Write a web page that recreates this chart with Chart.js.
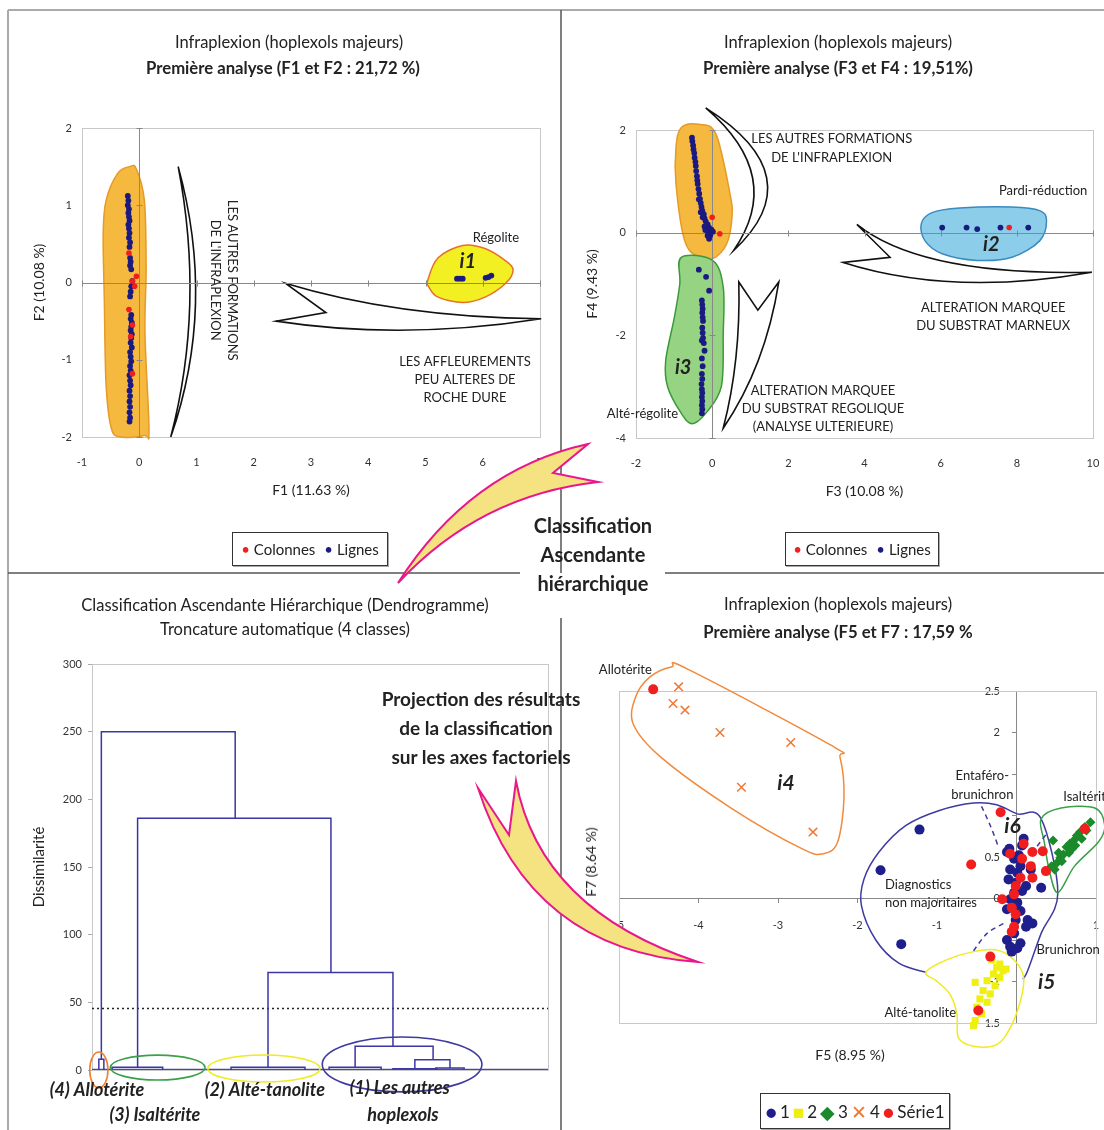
<!DOCTYPE html>
<html>
<head>
<meta charset="utf-8">
<script src="https://cdn.jsdelivr.net/npm/chart.js"></script>
<style>
  body { margin: 0; background: #fff; }
  #page { position: relative; width: 1104px; height: 1130px; overflow: hidden; color: #222;
          font-family: "Liberation Sans Narrow", Lato, sans-serif; }
  canvas { position: absolute; }
  .t { position: absolute; transform: translate(-50%, -50%); white-space: nowrap; line-height: 1; }
  .b { font-weight: bold; }
  .legend { position: absolute; border: 1px solid #333; box-shadow: 1px 1px 0 #aaa; background: #fff;
            display: flex; align-items: center; justify-content: center; gap: 9px; font-size: 15px; }
  .mk { font-size: 19px; line-height: 1; }
</style>
</head>
<body>
<div id="page">
  <canvas id="c1" width="560" height="440" style="left:0;top:90px"></canvas>
  <canvas id="c2" width="542" height="440" style="left:562px;top:90px"></canvas>
  <canvas id="c3" width="560" height="490" style="left:0;top:640px"></canvas>
  <canvas id="c4" width="542" height="545" style="left:562px;top:585px"></canvas>
  <canvas id="overlay" width="1104" height="1130" style="left:0;top:0"></canvas>

  <div class="t" style="left:289px;top:42px;font-size:16.5px">Infraplexion (hoplexols majeurs)</div>
  <div class="t b" style="left:283px;top:68px;font-size:16.7px">Première analyse (F1 et F2 : 21,72 %)</div>
  <div class="t" style="left:838px;top:42px;font-size:16.5px">Infraplexion (hoplexols majeurs)</div>
  <div class="t b" style="left:838px;top:68px;font-size:16.7px">Première analyse (F3 et F4 : 19,51%)</div>
  <div class="t" style="left:285px;top:605px;font-size:16.5px">Classification Ascendante Hiérarchique (Dendrogramme)</div>
  <div class="t" style="left:285px;top:629px;font-size:16.5px">Troncature automatique (4 classes)</div>
  <div class="t" style="left:838px;top:604px;font-size:16.5px">Infraplexion (hoplexols majeurs)</div>
  <div class="t b" style="left:838px;top:632px;font-size:16.7px">Première analyse (F5 et F7 : 17,59 %</div>

  <div class="t b" style="left:593px;top:525px;font-size:20px">Classification</div>
  <div class="t b" style="left:593px;top:554px;font-size:20px">Ascendante</div>
  <div class="t b" style="left:593px;top:583px;font-size:20px">hiérarchique</div>
  <div class="t b" style="left:481px;top:698px;font-size:19px">Projection des résultats</div>
  <div class="t b" style="left:476px;top:727px;font-size:19px">de la classification</div>
  <div class="t b" style="left:481px;top:756px;font-size:19px">sur les axes factoriels</div>

  <div class="t" style="left:850px;top:1055px;font-size:14px">F5 (8.95 %)</div>
  <div class="t" style="left:591px;top:862px;font-size:14px;transform:translate(-50%,-50%) rotate(-90deg)">F7 (8.64 %)</div>

  <div class="legend" style="left:232px;top:532px;width:154px;height:32px">
    <span><span style="color:#f01e1e">&#8226;</span> Colonnes</span><span><span style="color:#1a1a80">&#8226;</span> Lignes</span>
  </div>
  <div class="legend" style="left:785px;top:532px;width:152px;height:32px">
    <span><span style="color:#f01e1e">&#8226;</span> Colonnes</span><span><span style="color:#1a1a80">&#8226;</span> Lignes</span>
  </div>
  <div class="legend" style="left:760px;top:1093px;width:188px;height:34px;font-size:17px;gap:3px">
    <span class="mk" style="color:#1e1e8c">&#9679;</span>1
    <span class="mk" style="color:#eeee10">&#9632;</span>2
    <span class="mk" style="color:#1a8a2a">&#9670;</span>3
    <span class="mk" style="color:#f07830">&#10005;</span>4
    <span class="mk" style="color:#f01e1e">&#9679;</span>Série1
  </div>
</div>

<script>
// ---------- données : F1 / F2 ----------
const f1LignesX = [-0.20, -0.19, -0.20, -0.18, -0.19, -0.18, -0.17, -0.19, -0.18, -0.17, -0.18, -0.16, -0.17,
  -0.16, -0.15, -0.16, -0.14, -0.12, -0.14, -0.15, -0.16,
  -0.14, -0.15, -0.13, -0.14, -0.15, -0.13, -0.14, -0.15, -0.13, -0.16, -0.15, -0.14, -0.16, -0.15, -0.17, -0.16,
  -0.15, -0.17, -0.16, -0.17, -0.16, -0.17, -0.16, -0.17,
  5.55, 5.60, 5.65, 6.05, 6.10, 6.15];
const f2LignesY = [1.12, 1.06, 1.00, 0.95, 0.90, 0.85, 0.80, 0.75, 0.70, 0.64, 0.58, 0.52, 0.46,
  0.32, 0.27, 0.22, 0.17, 0.02, -0.05, -0.12, -0.18,
  -0.42, -0.47, -0.52, -0.57, -0.62, -0.67, -0.72, -0.78, -0.84, -0.90, -0.96, -1.02, -1.08, -1.14, -1.20, -1.27,
  -1.33, -1.40, -1.47, -1.54, -1.61, -1.68, -1.75, -1.80,
  0.05, 0.05, 0.05, 0.06, 0.07, 0.09];
const f1ColonnesX = [-0.18, -0.05, -0.12, -0.08, -0.18, -0.12, -0.15, -0.12];
const f2ColonnesY = [0.38, 0.08, 0.02, -0.05, -0.35, -0.55, -0.70, -1.18];

// ---------- données : F3 / F4 ----------
const f3LignesX = [-0.53, -0.52, -0.50, -0.49, -0.47, -0.46, -0.44, -0.43, -0.42, -0.40, -0.39, -0.38, -0.36,
  -0.34, -0.32, -0.30, -0.28, -0.26, -0.22, -0.20, -0.17, -0.12, -0.08, -0.02, 0.02, -0.15, -0.10, -0.05, -0.08,
  -0.20, -0.25, -0.18, -0.12, -0.35, -0.30,
  6.04, 6.68, 6.96, 7.57, 8.30,
  -0.35, -0.16, -0.08, -0.27, -0.26, -0.25, -0.26, -0.25, -0.24, -0.26, -0.25, -0.24, -0.27, -0.22, -0.20,
  -0.27, -0.25, -0.27, -0.26, -0.28, -0.27, -0.26, -0.27, -0.26, -0.27, -0.26, -0.27];
const f4LignesY = [1.85, 1.78, 1.70, 1.62, 1.55, 1.46, 1.38, 1.30, 1.20, 1.10, 1.02, 0.95, 0.85,
  0.76, 0.66, 0.58, 0.50, 0.43, 0.36, 0.28, 0.22, 0.16, 0.10, 0.06, 0.02, 0.08, 0.00, -0.05, -0.12,
  0.12, 0.30, 0.05, -0.06, 0.65, 0.40,
  0.10, 0.10, 0.07, 0.10, 0.10,
  -0.72, -0.86, -1.13, -1.32, -1.40, -1.48, -1.56, -1.65, -1.72, -1.85, -1.95, -2.05, -2.10, -2.15, -2.30,
  -2.45, -2.60, -2.75, -2.85, -2.95, -3.05, -3.12, -3.20, -3.28, -3.36, -3.44, -3.52];
const f3ColonnesX = [0.00, 0.20, 7.80];
const f4ColonnesY = [0.30, -0.02, 0.10];

// ---------- données : dendrogramme ----------
const mergeLeft      = [1.5, 4.4, 30.5, 52.0, 66.0, 75.4, 70.8, 57.7, 38.6, 10.0, 2.05];
const mergeRight     = [2.6, 15.5, 46.7, 63.4, 75.6, 81.6, 78.5, 74.8, 66.0, 52.4, 31.4];
const mergeHeight    = [8, 2, 2, 2, 1, 1.5, 7.5, 17.5, 72, 186, 250];
const mergeLeftBase  = [0, 0, 0, 0, 0, 0, 1, 2, 2, 2, 8];
const mergeRightBase = [0, 0, 0, 0, 0, 0, 1.5, 7.5, 17.5, 72, 186];
const truncLevel = 45.5;
const classNames = ['(4) Allotérite', '(3) Isaltérite', '(2) Alté-tanolite', '(1) Les autres', 'hoplexols'];

// ---------- données : F5 / F7 ----------
const c1X = [-1.22, -1.71, -1.45, -0.09, -0.03, 0.09, 0.07, -0.08, 0.01, -0.01, 0.12, -0.03, -0.08, 0.01, 0.05,
  0.14, 0.20, -0.03, -0.12, 0.05, -0.06, 0.31, 0.18, 0.05, -0.12, 0.03, -0.10, 0.07, -0.12, -0.01, 0.12, -0.08, 0.01];
const c1Y = [0.83, 0.34, -0.55, 0.60, 0.48, 0.72, 0.64, 0.35, 0.31, 0.19, 0.15, 0.07, -0.01, -0.05, -0.15,
  -0.26, -0.30, -0.42, -0.50, -0.54, -0.64, 0.13, 0.35, 0.39, 0.56, 0.52, 0.23, 0.09, -0.13, -0.26, -0.34, -0.58, -0.60];
const c2X = [-0.31, -0.25, -0.17, -0.29, -0.21, -0.37, -0.52, -0.27, -0.42, -0.33, -0.46, -0.37, -0.50, -0.44, -0.52, -0.54, -0.21, -0.13];
const c2Y = [-0.74, -0.83, -0.87, -0.91, -0.95, -0.99, -1.01, -1.05, -1.11, -1.15, -1.21, -1.25, -1.31, -1.39, -1.47, -1.53, -0.79, -0.85];
const c3X = [0.46, 0.44, 0.51, 0.55, 0.59, 0.53, 0.63, 0.67, 0.72, 0.76, 0.80, 0.86, 0.93, 0.57, 0.66, 0.74, 0.82, 0.88, 0.48, 0.70];
const c3Y = [0.70, 0.39, 0.43, 0.49, 0.53, 0.55, 0.62, 0.66, 0.70, 0.76, 0.80, 0.86, 0.92, 0.45, 0.55, 0.64, 0.72, 0.82, 0.35, 0.60];
const c4X = [-4.25, -4.32, -4.17, -3.73, -2.84, -3.46, -2.56];
const c4Y = [2.55, 2.35, 2.27, 2.00, 1.88, 1.34, 0.80];
const serie1X = [-4.57, -0.20, -0.57, 0.09, -0.08, 0.20, 0.33, 0.07, 0.18, 0.37, 0.20, 0.05, -0.01, -0.03, -0.18,
  -0.06, -0.01, -0.03, -0.06, -0.33, -0.48, 0.86];
const serie1Y = [2.52, 1.04, 0.41, 0.66, 0.54, 0.56, 0.57, 0.48, 0.39, 0.33, 0.25, 0.25, 0.15, 0.05, -0.01,
  -0.11, -0.19, -0.34, -0.40, -0.70, -1.35, 0.84];
const f5Labels = [-5, -4, -3, -2, -1, 1];
const f7Labels = [2.5, 2, 0.5, 0, -1, -1.5];

// ---------- annotations (en unités des axes) ----------
const FONT = '"Liberation Sans Narrow", Lato, sans-serif';
const NAVY = '#1a1a80', RED = '#f01e1e';

const hulls12 = [
  { pts: [[-0.58, 1.06], [-0.38, 1.41], [-0.17, 1.50], [-0.05, 1.47], [0.09, 1.06], [0.12, 0.19], [0.10, -0.66],
          [0.17, -1.91], [0.09, -1.98], [-0.33, -2.0], [-0.49, -1.88], [-0.58, -1.31], [-0.61, -0.23], [-0.63, 0.63]],
    fill: '#f5b940', stroke: '#e69a28' },
  { pts: [[5.04, 0.03], [5.22, 0.32], [5.65, 0.48], [6.04, 0.44], [6.40, 0.28], [6.53, 0.16], [6.40, -0.01],
          [6.04, -0.19], [5.65, -0.26], [5.22, -0.19], [5.06, -0.06]],
    fill: '#f2f022', stroke: '#e8702a' }
];
const shapes12 = [
  { cmds: [['M', 0.68, 1.5], ['Q', 1.35, -0.3, 0.55, -2.0], ['Q', 1.15, -0.3, 0.68, 1.5]] },
  { cmds: [['M', 2.55, -0.01], ['Q', 4.5, -0.45, 7.02, -0.47], ['Q', 4.6, -0.75, 2.39, -0.50], ['L', 3.26, -0.39]] }
];
const texts12 = [
  { x: 1.48, y: 0.03, text: ['LES AUTRES FORMATIONS', "DE L'INFRAPLEXION"], rotate: 90, gap: 17 },
  { x: 6.23, y: 0.58, text: 'Régolite' },
  { x: 5.74, y: 0.27, text: 'i1', font: 'italic bold 20px ' + FONT },
  { x: 5.69, y: -1.03, text: ['LES AFFLEUREMENTS', 'PEU ALTERES DE', 'ROCHE DURE'], gap: 18 }
];

const hulls34 = [
  { pts: [[-0.81, 2.05], [-0.35, 2.11], [0.10, 1.92], [0.47, 0.75], [0.52, 0.30], [0.38, -0.22], [0.01, -0.51],
          [-0.35, -0.48], [-0.72, -0.16], [-0.95, 0.95], [-0.95, 1.66]],
    fill: '#f5b940', stroke: '#e69a28' },
  { pts: [[-0.81, -0.48], [0.01, -0.54], [0.29, -1.06], [0.29, -1.97], [0.24, -3.00], [-0.17, -3.52], [-0.53, -3.72],
          [-0.81, -3.52], [-1.17, -3.00], [-1.22, -2.49], [-0.99, -1.64], [-0.85, -1.00]],
    fill: '#96d483', stroke: '#3a9a3a' },
  { pts: [[5.49, 0.17], [5.77, 0.39], [6.50, 0.48], [7.87, 0.50], [8.60, 0.43], [8.78, 0.23], [8.60, -0.16],
          [7.87, -0.48], [6.96, -0.54], [6.04, -0.41], [5.59, -0.16]],
    fill: '#8ccdea', stroke: '#3a8ac0' }
];
const shapes34 = [
  { cmds: [['M', -0.17, 2.43], ['Q', 2.665, 1.10, 0.56, -0.35], ['Q', 1.925, 1.10, -0.17, 2.43]] },
  { cmds: [['M', 0.70, -0.96], ['L', 1.20, -1.51], ['L', 1.75, -0.96], ['Q', 1.4, -2.6, 0.29, -3.81], ['Q', 0.75, -2.5, 0.70, -0.96]] },
  { cmds: [['M', 3.80, 0.16], ['Q', 5.5, -0.85, 9.97, -0.77], ['Q', 6.28, -1.25, 3.44, -0.58], ['L', 4.67, -0.48]] }
];
const texts34 = [
  { x: 3.14, y: 1.83, text: ['LES AUTRES FORMATIONS', "DE L'INFRAPLEXION"], gap: 19 },
  { x: 8.69, y: 0.82, text: 'Pardi-réduction' },
  { x: 7.33, y: -0.23, text: 'i2', font: 'italic bold 20px ' + FONT },
  { x: 7.38, y: -1.46, text: ['ALTERATION MARQUEE', 'DU SUBSTRAT MARNEUX'], gap: 18 },
  { x: -0.76, y: -2.62, text: 'i3', font: 'italic bold 20px ' + FONT },
  { x: -1.83, y: -3.53, text: 'Alté-régolite' },
  { x: 2.91, y: -3.09, text: ['ALTERATION MARQUEE', 'DU SUBSTRAT REGOLIQUE', '(ANALYSE ULTERIEURE)'], gap: 18 }
];

const ellipses = [
  { cx: 1.5, cy: 0, rx: 2.0, ry: 13.3, color: '#f08030' },
  { cx: 14.4, cy: 1.8, rx: 10.4, ry: 9.2, color: '#3aa04a' },
  { cx: 37.7, cy: 1.1, rx: 12.3, ry: 10, color: '#f0ea20' },
  { cx: 68, cy: 4.1, rx: 17.5, ry: 20.3, color: '#3d3aa0' }
];
const classLabelPos = [[1.1, -14.8], [13.8, -33.3], [37.9, -14.8], [67.5, -13.3], [68.2, -33.3]];

const hulls57 = [
  { pts: [[-4.79, 2.43], [-4.61, 2.67], [-4.34, 2.79], [-4.13, 2.76], [-2.34, 1.85], [-2.22, 1.70], [-2.17, 1.21],
          [-2.25, 0.68], [-2.43, 0.54], [-2.70, 0.60], [-3.59, 1.09], [-4.47, 1.70], [-4.82, 2.10]], stroke: '#f08a3c' },
  { pts: [[0.08, -0.97], [0.14, -0.87], [0.31, -0.42], [0.52, 0.07], [0.31, 0.96], [0.01, 1.02], [-0.25, 1.13],
          [-0.54, 1.15], [-0.97, 1.06], [-1.39, 0.88], [-1.73, 0.56], [-1.92, 0.23], [-1.95, -0.09], [-1.77, -0.50],
          [-1.48, -0.78], [-1.14, -0.89]], stroke: '#3d3aa0', open: true },
  { pts: [[0.31, 0.96], [0.56, 1.09], [0.985, 1.09], [1.11, 0.88], [1.03, 0.68], [0.73, 0.39], [0.52, 0.07],
          [0.41, 0.35], [0.35, 0.68]], stroke: '#3aa04a' },
  { pts: [[-1.14, -0.89], [-0.88, -0.74], [-0.54, -0.64], [-0.25, -0.62], [-0.03, -0.74], [0.09, -0.95], [0.05, -1.23],
          [-0.08, -1.56], [-0.25, -1.76], [-0.54, -1.78], [-0.73, -1.68], [-0.75, -1.39], [-0.84, -1.15], [-1.01, -0.99]],
    stroke: '#f0ea20' },
  { pts: [[-0.44, 1.11], [-0.33, 0.88], [-0.23, 0.63]], stroke: '#3d3aa0', open: true, dash: [5, 4] },
  { pts: [[-0.54, -0.63], [-0.37, -0.42], [-0.16, -0.30]], stroke: '#3d3aa0', open: true, dash: [5, 4] },
  { pts: [[0.26, 0.63], [0.37, 0.77]], stroke: '#3d3aa0', open: true, dash: [5, 4] }
];
const texts57 = [
  { x: -4.92, y: 2.76, text: 'Allotérite' },
  { x: -2.90, y: 1.39, text: 'i4', font: 'italic bold 21px ' + FONT },
  { x: -0.43, y: 1.48, text: ['Entaféro-', 'brunichron'], gap: 19 },
  { x: 0.84, y: 1.22, text: 'Isaltérite', align: 'left', dx: -20 },
  { x: -0.05, y: 0.87, text: 'i6', font: 'italic bold 21px ' + FONT },
  { x: -1.15, y: 0.16, text: ['Diagnostics', 'non majoritaires'], gap: 18, align: 'left', dx: -40 },
  { x: 0.65, y: -0.62, text: 'Brunichron' },
  { x: 0.38, y: -1.01, text: 'i5', font: 'italic bold 21px ' + FONT },
  { x: -1.21, y: -1.38, text: 'Alté-tanolite' }
];

// ---------- outils de dessin ----------
const pairs = (xs, ys) => xs.map((x, i) => ({ x: x, y: ys[i] }));

function toPx(chart, x, y) {
  return [chart.scales.x.getPixelForValue(x), chart.scales.y.getPixelForValue(y)];
}

function smoothPath(ctx, pts, open) {
  const n = pts.length;
  const at = i => open ? pts[Math.max(0, Math.min(n - 1, i))] : pts[(i + n) % n];
  ctx.beginPath();
  ctx.moveTo(pts[0][0], pts[0][1]);
  const segs = open ? n - 1 : n;
  for (let i = 0; i < segs; i++) {
    const p0 = at(i - 1), p1 = at(i), p2 = at(i + 1), p3 = at(i + 2);
    ctx.bezierCurveTo(p1[0] + (p2[0] - p0[0]) / 6, p1[1] + (p2[1] - p0[1]) / 6,
                      p2[0] - (p3[0] - p1[0]) / 6, p2[1] - (p3[1] - p1[1]) / 6, p2[0], p2[1]);
  }
  if (!open) ctx.closePath();
}

function drawHulls(chart, hulls) {
  const ctx = chart.ctx;
  hulls.forEach(h => {
    smoothPath(ctx, h.pts.map(p => toPx(chart, p[0], p[1])), h.open);
    if (h.fill) { ctx.fillStyle = h.fill; ctx.fill(); }
    ctx.setLineDash(h.dash || []);
    ctx.strokeStyle = h.stroke;
    ctx.lineWidth = 1.5;
    ctx.stroke();
    ctx.setLineDash([]);
  });
}

function drawShapes(chart, shapes) {
  const ctx = chart.ctx;
  shapes.forEach(s => {
    ctx.beginPath();
    s.cmds.forEach(c => {
      const a = toPx(chart, c[1], c[2]);
      if (c[0] === 'M') ctx.moveTo(a[0], a[1]);
      else if (c[0] === 'L') ctx.lineTo(a[0], a[1]);
      else { const b = toPx(chart, c[3], c[4]); ctx.quadraticCurveTo(a[0], a[1], b[0], b[1]); }
    });
    ctx.closePath();
    ctx.fillStyle = '#fff';
    ctx.fill();
    ctx.strokeStyle = '#111';
    ctx.lineWidth = 1.6;
    ctx.stroke();
  });
}

function drawTexts(chart, texts) {
  const ctx = chart.ctx;
  texts.forEach(t => {
    const p = toPx(chart, t.x, t.y);
    const lines = [].concat(t.text);
    const gap = t.gap || 17;
    ctx.save();
    ctx.translate(p[0] + (t.dx || 0), p[1]);
    if (t.rotate) ctx.rotate(t.rotate * Math.PI / 180);
    ctx.font = t.font || '13px ' + FONT;
    ctx.fillStyle = '#222';
    ctx.textAlign = t.align || 'center';
    ctx.textBaseline = 'middle';
    const shift = t.rotate ? (lines.length - 1) / 2 : 0;
    lines.forEach((s, i) => ctx.fillText(s, 0, (i - shift) * gap));
    ctx.restore();
  });
}

function drawBox(chart) {
  const ctx = chart.ctx, a = chart.chartArea;
  ctx.strokeStyle = '#c8c8c8';
  ctx.lineWidth = 1;
  ctx.strokeRect(Math.round(a.left) + 0.5, Math.round(a.top) + 0.5, Math.round(a.width), Math.round(a.height));
}

// axes qui se croisent en 0, avec leurs graduations
function drawCross(chart) {
  const ctx = chart.ctx, a = chart.chartArea, sx = chart.scales.x, sy = chart.scales.y;
  const x0 = Math.round(sx.getPixelForValue(0)) + 0.5, y0 = Math.round(sy.getPixelForValue(0)) + 0.5;
  ctx.strokeStyle = '#888';
  ctx.lineWidth = 1;
  ctx.beginPath();
  ctx.moveTo(a.left, y0); ctx.lineTo(a.right, y0);
  ctx.moveTo(x0, a.top); ctx.lineTo(x0, a.bottom);
  sx.ticks.forEach(t => { const px = Math.round(sx.getPixelForValue(t.value)) + 0.5; ctx.moveTo(px, y0 - 3); ctx.lineTo(px, y0 + 3); });
  sy.ticks.forEach(t => { const py = Math.round(sy.getPixelForValue(t.value)) + 0.5; ctx.moveTo(x0 - 3, py); ctx.lineTo(x0 + 3, py); });
  ctx.stroke();
}

function decor(cfg) {
  return {
    id: 'decor',
    beforeDatasetsDraw(chart) {
      const ctx = chart.ctx;
      ctx.save();
      drawBox(chart);
      drawShapes(chart, cfg.shapes || []);
      drawHulls(chart, cfg.hulls || []);
      if (cfg.cross) drawCross(chart);
      ctx.restore();
    },
    afterDatasetsDraw(chart) {
      chart.ctx.save();
      if (cfg.after) cfg.after(chart);
      drawTexts(chart, cfg.texts || []);
      chart.ctx.restore();
    }
  };
}

Chart.defaults.font.family = FONT;
Chart.defaults.color = '#333';

function pcaOptions(xr, yr, xTitle, yTitle, padding, yWidth) {
  return {
    responsive: false, animation: false, devicePixelRatio: 1, events: [],
    layout: { padding: padding },
    plugins: { legend: { display: false }, tooltip: { enabled: false } },
    scales: {
      x: {
        type: 'linear', min: xr[0], max: xr[1],
        ticks: { stepSize: xr[2], padding: 19, font: { size: 11 } },
        grid: { display: false, drawTicks: false }, border: { display: false },
        title: { display: true, text: xTitle, font: { size: 14 }, padding: 0, color: '#222' },
        afterFit: s => { s.height = 62; s.paddingLeft = 0; s.paddingRight = 0; }
      },
      y: {
        type: 'linear', min: yr[0], max: yr[1],
        ticks: { stepSize: yr[2], padding: 10, font: { size: 11 } },
        grid: { display: false, drawTicks: false }, border: { display: false },
        title: { display: true, text: yTitle, font: { size: 14 }, padding: 0, color: '#222' },
        afterFit: s => { s.width = yWidth; s.paddingTop = 0; s.paddingBottom = 0; }
      }
    }
  };
}

function pcaData(colX, colY, ligX, ligY) {
  return {
    datasets: [
      { label: 'Colonnes', data: pairs(colX, colY), backgroundColor: RED, pointRadius: 2.8, pointBorderWidth: 0, clip: false },
      { label: 'Lignes', data: pairs(ligX, ligY), backgroundColor: NAVY, pointRadius: 2.9, pointBorderWidth: 0, clip: false }
    ]
  };
}

// ---------- graphique 1 : F1 / F2 ----------
new Chart(document.getElementById('c1'), {
  type: 'scatter',
  data: pcaData(f1ColonnesX, f2ColonnesY, f1LignesX, f2LignesY),
  options: pcaOptions([-1, 7, 1], [-2, 2, 1], 'F1 (11.63 %)', 'F2 (10.08 %)',
    { left: 31, top: 38, right: 20, bottom: 31 }, 51),
  plugins: [decor({ hulls: hulls12, shapes: shapes12, texts: texts12, cross: true })]
});

// ---------- graphique 2 : F3 / F4 ----------
new Chart(document.getElementById('c2'), {
  type: 'scatter',
  data: pcaData(f3ColonnesX, f4ColonnesY, f3LignesX, f4LignesY),
  options: pcaOptions([-2, 10, 2], [-4, 2, 2], 'F3 (10.08 %)', 'F4 (9.43 %)',
    { left: 22, top: 40, right: 11, bottom: 30 }, 52),
  plugins: [decor({ hulls: hulls34, shapes: shapes34, texts: texts34, cross: true })]
});

// ---------- graphique 3 : dendrogramme ----------
const dendroSets = mergeLeft.map((xl, i) => ({
  data: [{ x: xl, y: mergeLeftBase[i] }, { x: xl, y: mergeHeight[i] },
         { x: mergeRight[i], y: mergeHeight[i] }, { x: mergeRight[i], y: mergeRightBase[i] }],
  showLine: true, borderColor: '#3b36a6', borderWidth: 1.5, pointRadius: 0, clip: false
}));
dendroSets.push({ data: [{ x: 0, y: 0 }, { x: 100, y: 0 }], showLine: true, borderColor: '#4a46b0', borderWidth: 2.5, pointRadius: 0 });
dendroSets.push({ data: [{ x: 0, y: truncLevel }, { x: 100, y: truncLevel }], showLine: true, borderColor: '#222',
  borderWidth: 1.5, borderDash: [2, 3], pointRadius: 0 });

new Chart(document.getElementById('c3'), {
  type: 'scatter',
  data: { datasets: dendroSets },
  options: {
    responsive: false, animation: false, devicePixelRatio: 1, events: [],
    layout: { padding: { left: 30, top: 24, right: 12, bottom: 60 } },
    plugins: { legend: { display: false }, tooltip: { enabled: false } },
    scales: {
      x: { type: 'linear', min: 0, max: 100, display: false },
      y: {
        type: 'linear', min: 0, max: 300,
        ticks: { stepSize: 50, padding: 6, font: { size: 11 } },
        grid: { display: true, drawOnChartArea: false, drawTicks: true, tickLength: 4, color: '#aaa' },
        border: { display: true, color: '#aaa' },
        title: { display: true, text: 'Dissimilarité', font: { size: 15 }, padding: 0, color: '#222' },
        afterFit: s => { s.width = 62; s.paddingTop = 0; s.paddingBottom = 0; }
      }
    }
  },
  plugins: [decor({
    after: chart => {
      const ctx = chart.ctx;
      ellipses.forEach(e => {
        const c = toPx(chart, e.cx, e.cy);
        const rx = Math.abs(toPx(chart, e.cx + e.rx, 0)[0] - c[0]);
        const ry = Math.abs(toPx(chart, 0, e.ry)[1] - toPx(chart, 0, 0)[1]);
        ctx.beginPath();
        ctx.ellipse(c[0], c[1], rx, ry, 0, 0, Math.PI * 2);
        ctx.strokeStyle = e.color;
        ctx.lineWidth = 1.6;
        ctx.stroke();
      });
    },
    texts: classNames.map((name, i) => ({ x: classLabelPos[i][0], y: classLabelPos[i][1], text: name,
      font: 'italic bold 18px ' + FONT }))
  })]
});

// ---------- graphique 4 : F5 / F7 ----------
new Chart(document.getElementById('c4'), {
  type: 'scatter',
  data: {
    datasets: [
      { label: 'Série1', data: pairs(serie1X, serie1Y), backgroundColor: RED, pointRadius: 5, pointBorderWidth: 0, clip: false },
      { label: '4', data: pairs(c4X, c4Y), pointStyle: 'crossRot', borderColor: '#f07830', pointRadius: 6, pointBorderWidth: 1.5, clip: false },
      { label: '3', data: pairs(c3X, c3Y), pointStyle: 'rectRot', backgroundColor: '#1a8a2a', pointRadius: 5, pointBorderWidth: 0, clip: false },
      { label: '2', data: pairs(c2X, c2Y), pointStyle: 'rect', backgroundColor: '#f0f010', pointRadius: 5, pointBorderWidth: 0, clip: false },
      { label: '1', data: pairs(c1X, c1Y), backgroundColor: '#1e1e8c', pointRadius: 5, pointBorderWidth: 0, clip: false }
    ]
  },
  options: {
    responsive: false, animation: false, devicePixelRatio: 1, events: [],
    layout: { padding: { left: 57, top: 106, right: 8, bottom: 107 } },
    plugins: { legend: { display: false }, tooltip: { enabled: false } },
    scales: {
      x: {
        type: 'linear', position: { y: 0 }, min: -5, max: 1,
        ticks: { stepSize: 1, padding: 16, font: { size: 11 }, callback: v => f5Labels.includes(v) ? String(v) : '' },
        grid: { display: true, drawOnChartArea: false, drawTicks: true, tickLength: 4, color: '#888' },
        border: { display: true, color: '#888' },
        afterFit: s => { s.height = 0; s.paddingLeft = 0; s.paddingRight = 0; }
      },
      y: {
        type: 'linear', position: { x: 0 }, min: -1.5, max: 2.5,
        ticks: { stepSize: 0.5, font: { size: 11 },
                 callback: v => f7Labels.includes(v) ? String(v) + '\u2002\u2002\u2002' : '' },
        grid: { display: true, drawOnChartArea: false, drawTicks: true, tickLength: 4, color: '#888' },
        border: { display: true, color: '#888' },
        afterFit: s => { s.width = 0; s.paddingTop = 0; s.paddingBottom = 0; }
      }
    }
  },
  plugins: [decor({ hulls: hulls57, texts: texts57 })]
});

// ---------- cadre et flèches décoratives ----------
const ov = document.getElementById('overlay').getContext('2d');
function seg(x1, y1, x2, y2, color, w) {
  ov.beginPath(); ov.moveTo(x1, y1); ov.lineTo(x2, y2);
  ov.strokeStyle = color; ov.lineWidth = w; ov.stroke();
}
seg(8, 10, 1104, 10, '#aaa', 2);
seg(8, 10, 8, 1130, '#aaa', 2);
seg(8, 573, 520, 573, '#555', 1.5);
seg(665, 573, 1104, 573, '#555', 1.5);
seg(561, 10, 561, 573, '#555', 1.5);
seg(561, 618, 561, 1130, '#555', 1.5);

function bigArrow(cmds) {
  ov.beginPath();
  cmds.forEach(c => {
    if (c[0] === 'M') ov.moveTo(c[1], c[2]);
    else if (c[0] === 'L') ov.lineTo(c[1], c[2]);
    else ov.quadraticCurveTo(c[1], c[2], c[3], c[4]);
  });
  ov.closePath();
  ov.fillStyle = '#f5e382';
  ov.fill();
  ov.strokeStyle = '#e8188c';
  ov.lineWidth = 2;
  ov.stroke();
}
bigArrow([['M', 398, 583], ['Q', 470, 470, 588, 444], ['L', 553, 473], ['L', 598, 482], ['Q', 480, 495, 398, 583]]);
bigArrow([['M', 478, 788], ['L', 509, 835], ['L', 516, 781], ['Q', 540, 910, 698, 962], ['Q', 530, 950, 478, 788]]);
</script>
</body>
</html>
